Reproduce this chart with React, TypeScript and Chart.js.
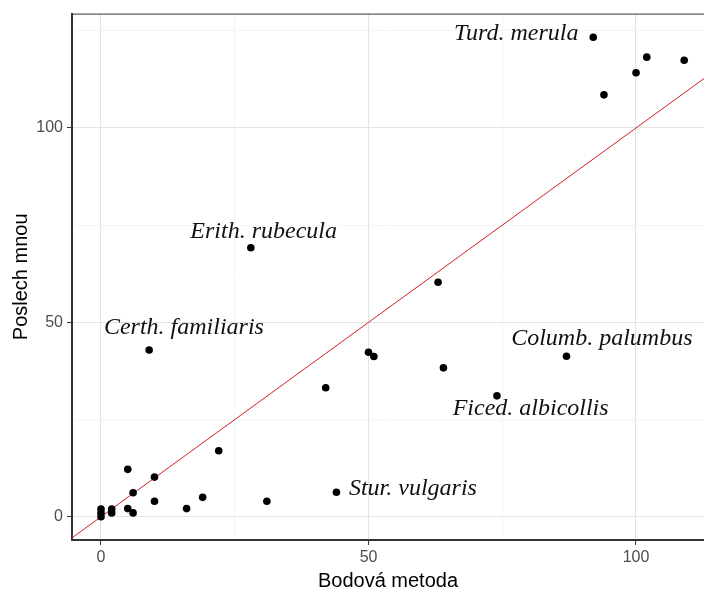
import React, { useEffect, useRef } from "react";
import { Chart, registerables } from "chart.js";

Chart.register(...registerables);

// Data
const bodovaMetoda = [92, 102, 109, 100, 94, 63, 28, 9, 42, 22, 5, 10, 6, 10, 19, 16, 31, 5, 6, 44, 0, 0, 0, 2, 2, 50, 51, 64, 74, 87];
const poslechMnou = [123.3, 118.2, 117.4, 114.2, 108.5, 60.3, 69.2, 42.9, 33.2, 17, 12.2, 10.2, 6.2, 4, 5, 2.1, 4, 2.1, 1, 6.3, 0, 1, 2, 1, 2, 42.3, 41.2, 38.3, 31.1, 41.3];

const speciesLabels = ["Turd. merula", "Erith. rubecula", "Certh. familiaris", "Columb. palumbus", "Ficed. albicollis", "Stur. vulgaris"];
const labelX = [77.6, 30.4, 15.5, 93.6, 80.3, 58.3];
const labelY = [124.3, 73.3, 48.6, 45.8, 27.9, 7.1];

const refLine = [-10, 130]; // y = x identity line
const majorTicks = [0, 50, 100];
const tickStep = 25;
const xRange = [-5.42, 112.7];
const yRange = [-5.97, 129.4];

const xTitle = "Bodová metoda";
const yTitle = "Poslech mnou";

const isMajor = (v: number) => majorTicks.includes(v);

const annotationPlugin = {
  id: "speciesAnnotations",
  afterDatasetsDraw(chart: any) {
    const { ctx, scales, chartArea } = chart;
    ctx.save();
    // top panel border
    ctx.strokeStyle = "#333333";
    ctx.lineWidth = 1;
    ctx.beginPath();
    ctx.moveTo(chartArea.left, chartArea.top + 0.5);
    ctx.lineTo(chartArea.right, chartArea.top + 0.5);
    ctx.stroke();
    ctx.font = 'italic 24px "Liberation Serif", "Times New Roman", serif';
    ctx.fillStyle = "#111111";
    ctx.textAlign = "center";
    ctx.textBaseline = "middle";
    speciesLabels.forEach((t, i) => {
      const px = scales.x.getPixelForValue(labelX[i]);
      const py = scales.y.getPixelForValue(labelY[i]);
      ctx.fillText(t, px, py);
    });
    ctx.restore();
  },
};

const gridColor = (ctx: any) => (isMajor(ctx.tick?.value) ? "#E3E3E3" : "#F1F1F1");
const gridWidth = (ctx: any) => (isMajor(ctx.tick?.value) ? 1.1 : 0.7);
const tickColor = (ctx: any) => (isMajor(ctx.tick?.value) ? "#333333" : "rgba(0,0,0,0)");

export default function App() {
  const canvasRef = useRef<HTMLCanvasElement | null>(null);

  useEffect(() => {
    if (!canvasRef.current) return;
    const points = bodovaMetoda.map((x, i) => ({ x, y: poslechMnou[i] }));
    const line = refLine.map((v) => ({ x: v, y: v }));
    const tickFont = { family: '"Liberation Sans", Arial, sans-serif', size: 16 };
    const chart = new Chart(canvasRef.current, {
      type: "scatter",
      data: {
        datasets: [
          {
            type: "line",
            data: line,
            borderColor: "rgb(214,30,40)",
            borderWidth: 1,
            pointRadius: 0,
            fill: false,
            order: 2,
          } as any,
          {
            type: "scatter",
            data: points,
            backgroundColor: "#000000",
            borderWidth: 0,
            pointRadius: 3.8,
            order: 1,
          },
        ],
      },
      options: {
        animation: false,
        responsive: true,
        maintainAspectRatio: false,
        layout: { padding: { top: 12, right: 0, left: 0, bottom: 0 } },
        plugins: { legend: { display: false }, tooltip: { enabled: false } },
        scales: {
          x: {
            type: "linear",
            min: xRange[0],
            max: xRange[1],
            afterFit: (s: any) => {
              s.height = 54;
            },
            ticks: {
              stepSize: tickStep,
              includeBounds: false,
              autoSkip: false,
              maxRotation: 0,
              padding: 3,
              color: "#4D4D4D",
              font: tickFont,
              callback: (v: any) => (isMajor(Number(v)) ? String(v) : ""),
            },
            grid: { color: gridColor, lineWidth: gridWidth, tickColor, tickLength: 5, tickWidth: 1 },
            border: { display: true, color: "#333333", width: 2 },
            title: {
              display: true,
              text: xTitle,
              color: "#000000",
              font: { family: '"Liberation Sans", Arial, sans-serif', size: 20 },
              padding: { top: 0, bottom: 1 },
            },
          },
          y: {
            type: "linear",
            min: yRange[0],
            max: yRange[1],
            afterFit: (s: any) => {
              s.width = 72;
            },
            ticks: {
              stepSize: tickStep,
              includeBounds: false,
              autoSkip: false,
              padding: 4,
              color: "#4D4D4D",
              font: tickFont,
              callback: (v: any) => (isMajor(Number(v)) ? String(v) : ""),
            },
            grid: { color: gridColor, lineWidth: gridWidth, tickColor, tickLength: 5, tickWidth: 1 },
            border: { display: true, color: "#333333", width: 2 },
            title: {
              display: true,
              text: yTitle,
              color: "#000000",
              font: { family: '"Liberation Sans", Arial, sans-serif', size: 20 },
              padding: { top: 9, bottom: 0 },
            },
          },
        },
      },
      plugins: [annotationPlugin],
    });
    return () => chart.destroy();
  }, []);

  return (
    <div style={{ position: "fixed", left: 0, top: 0, width: 708, height: 594, background: "#ffffff" }}>
      <canvas ref={canvasRef} />
    </div>
  );
}
